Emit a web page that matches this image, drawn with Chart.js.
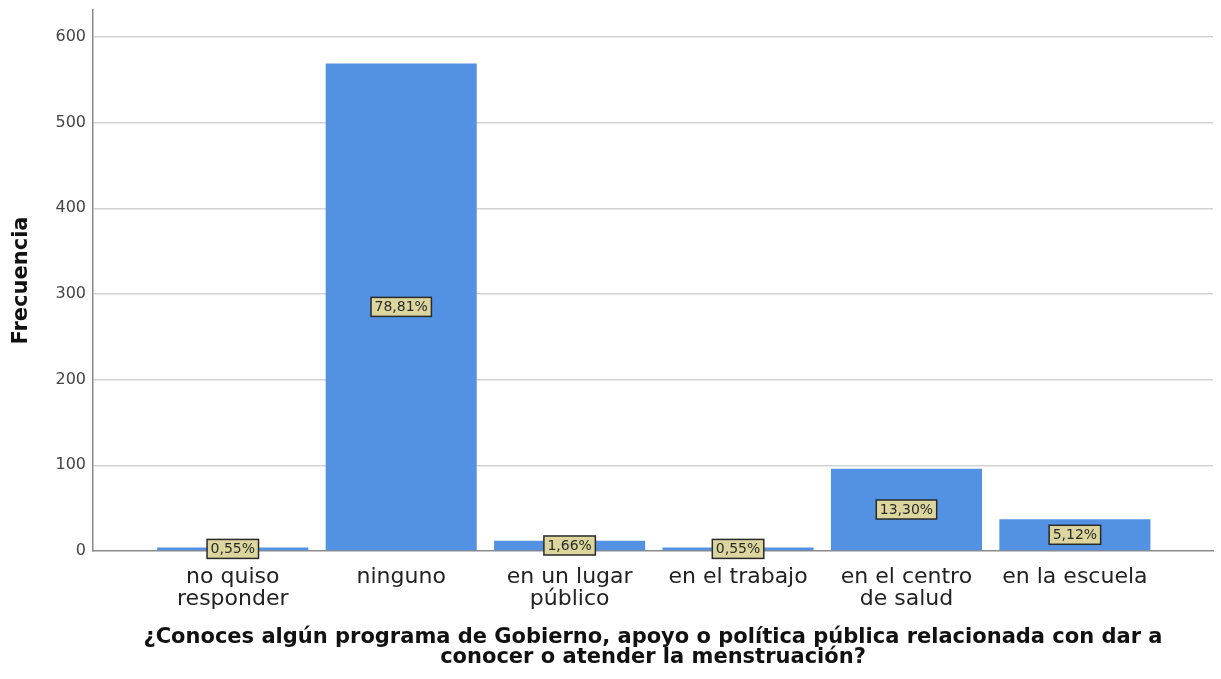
<!DOCTYPE html>
<html><head><meta charset="utf-8">
<script src="https://cdn.jsdelivr.net/npm/chart.js@4/dist/chart.umd.min.js"></script>
<style>html,body{margin:0;padding:0;background:#fff;}#wrap{width:1221px;height:679px;}</style>
</head><body><div id="wrap"><canvas id="c" width="1221" height="679"></canvas></div>
<script>
const categories = [["no quiso","responder"],["ninguno"],["en un lugar","público"],["en el trabajo"],["en el centro","de salud"],["en la escuela"]];
const frequencies = [4, 569, 12, 4, 96, 37];
const percentLabels = ["0,55%","78,81%","1,66%","0,55%","13,30%","5,12%"];
const yTicks = [0,100,200,300,400,500,600];
const xTitle = ["¿Conoces algún programa de Gobierno, apoyo o política pública relacionada con dar a","conocer o atender la menstruación?"];
const yTitle = "Frecuencia";

const labelBoxes = {
  id: 'labelBoxes',
  afterDatasetsDraw(chart) {
    const ctx = chart.ctx;
    const meta = chart.getDatasetMeta(0);
    ctx.save();
    ctx.font = '14px "DejaVu Sans"';
    ctx.textAlign = 'center';
    ctx.textBaseline = 'middle';
    meta.data.forEach((el, i) => {
      const txt = percentLabels[i];
      const cx = el.x;
      const cy = (el.y + el.base) / 2;
      const w = ctx.measureText(txt).width + 7;
      const h = 19;
      ctx.fillStyle = '#dcd69e';
      ctx.fillRect(cx - w/2, cy - h/2, w, h);
      ctx.lineWidth = 1.5;
      ctx.strokeStyle = '#2a2a2a';
      ctx.strokeRect(cx - w/2, cy - h/2, w, h);
      ctx.fillStyle = '#2a2a2a';
      ctx.fillText(txt, cx, cy + 0.5);
    });
    ctx.restore();
  }
};

new Chart(document.getElementById('c'), {
  type: 'bar',
  data: {
    datasets: [{
      data: frequencies.map((v, i) => ({x: i, y: v})),
      backgroundColor: '#5391e3',
      borderWidth: 0,
      barPercentage: 1,
      categoryPercentage: 0.897
    }]
  },
  options: {
    responsive: false,
    devicePixelRatio: 1,
    animation: false,
    layout: {padding: {top: 10, right: 8, left: 0, bottom: 0}},
    plugins: {legend: {display: false}, tooltip: {enabled: false}},
    scales: {
      x: {
        type: 'linear',
        offset: false,
        min: -0.83,
        max: 5.82,
        afterBuildTicks: s => { s.ticks = categories.map((c, i) => ({value: i})); },
        afterFit: s => { s.height = 128; s.paddingLeft = 0; s.paddingRight = 0; },
        grid: {display: false, drawTicks: false, offset: false},
        border: {display: true, color: '#8a8a8a', width: 1.5},
        ticks: {
          autoSkip: false, maxRotation: 0, minRotation: 0,
          padding: 16,
          color: '#222',
          font: {family: '"DejaVu Sans"', size: 22, lineHeight: 0.97},
          callback: v => categories[v]
        },
        title: {
          display: true, text: xTitle, color: '#111',
          font: {family: '"DejaVu Sans"', size: 21, weight: 'bold', lineHeight: 0.97},
          padding: {top: 0, bottom: 11}
        }
      },
      y: {
        min: 0,
        max: 631.5,
        afterBuildTicks: s => { s.ticks = yTicks.map(v => ({value: v})); },
        afterFit: s => { s.width = 93; s.paddingTop = 0; s.paddingBottom = 0; },
        grid: {color: c => (c.tick && c.tick.value === 0) ? 'rgba(0,0,0,0)' : '#d2d2d2', lineWidth: 1.5, drawTicks: false},
        border: {display: true, color: '#8a8a8a', width: 1.5},
        ticks: {padding: 7, color: '#444', font: {family: '"DejaVu Sans"', size: 16}},
        title: {
          display: true, text: yTitle, color: '#111',
          font: {family: '"DejaVu Sans"', size: 21, weight: 'bold', lineHeight: 1.2},
          padding: {top: 9, bottom: 0}
        }
      }
    }
  },
  plugins: [labelBoxes]
});
</script></body></html>
